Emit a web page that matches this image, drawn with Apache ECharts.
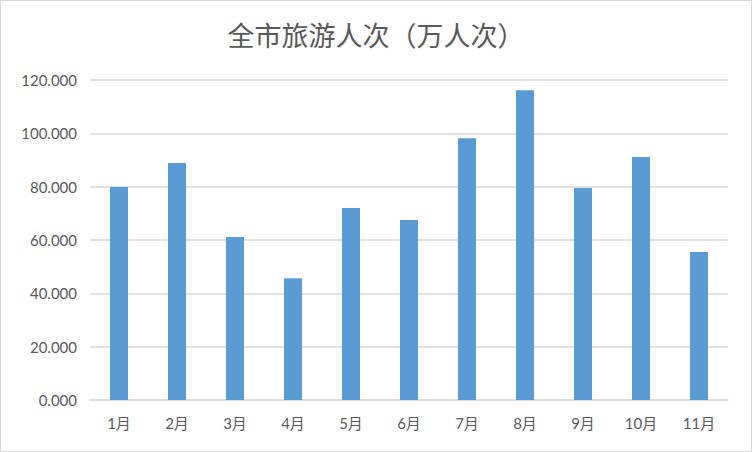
<!DOCTYPE html>
<html lang="zh">
<head>
<meta charset="UTF-8">
<title>全市旅游人次</title>
<script src="https://cdn.jsdelivr.net/npm/echarts@6/dist/echarts.min.js"></script>
<style>
  html, body { margin: 0; padding: 0; background: #fff; }
  #chart { width: 750px; height: 450px; border: 1px solid #d9d9d9; }
</style>
</head>
<body>
<div id="chart"></div>
<script>
  // 月份与人次（万人次）
  var months = ['1月', '2月', '3月', '4月', '5月', '6月', '7月', '8月', '9月', '10月', '11月'];
  var visitors = [79.9, 88.9, 61.1, 45.7, 72.0, 67.5, 98.2, 116.2, 79.5, 91.1, 55.5];

  var txtFont = 'Lato, "Noto Sans CJK SC", sans-serif';
  var chart = echarts.init(document.getElementById('chart'), null, {renderer: 'svg'});

  chart.setOption({
    animation: false,
    title: {
      text: '全市旅游人次（万人次）',
      left: 'center',
      top: 15,
      textStyle: {
        fontFamily: '"Noto Sans CJK SC", sans-serif',
        fontSize: 27,
        fontWeight: 'normal',
        color: '#595959'
      }
    },
    grid: {
      left: 89,
      right: 23,
      top: 79,
      bottom: 51
    },
    xAxis: {
      type: 'category',
      data: months,
      axisLine: {lineStyle: {color: '#d9d9d9', width: 1.5}},
      axisTick: {show: false},
      axisLabel: {
        color: '#595959',
        fontFamily: txtFont,
        fontSize: 15,
        margin: 15
      }
    },
    yAxis: {
      type: 'value',
      min: 0,
      max: 120,
      interval: 20,
      axisLine: {show: false},
      axisTick: {show: false},
      splitLine: {lineStyle: {color: '#d9d9d9', width: 1.5}},
      axisLabel: {
        color: '#595959',
        fontFamily: txtFont,
        fontSize: 15,
        margin: 13,
        formatter: function (v) { return v.toFixed(3); }
      }
    },
    series: [{
      type: 'bar',
      data: visitors,
      barWidth: 18,
      itemStyle: {color: '#5b9bd5'}
    }]
  });
</script>
</body>
</html>
